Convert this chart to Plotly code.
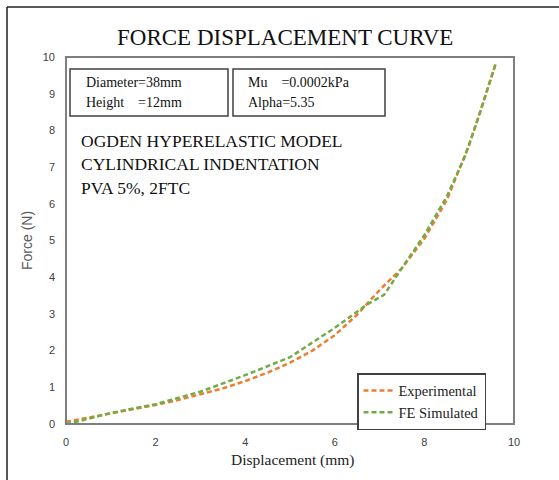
import plotly.graph_objects as go

# Measured indentation response (displacement in mm, force in N)
exp_disp = [0, 0.5, 1, 1.5, 2, 2.5, 3, 3.5, 4, 4.5, 5, 5.5, 6, 6.5, 7, 7.5, 8, 8.5, 9, 9.6]
exp_force = [0.06, 0.17, 0.28, 0.40, 0.52, 0.65, 0.80, 0.97, 1.17, 1.40, 1.67, 2.00, 2.42, 2.98, 3.65, 4.25, 5.05, 6.10, 7.60, 9.85]

# Finite element prediction
fe_disp = [0, 0.3, 1, 2, 3, 4, 5, 6, 6.7, 7.1, 7.5, 8, 8.5, 8.9, 9.24, 9.6]
fe_force = [0, 0.08, 0.30, 0.54, 0.88, 1.33, 1.82, 2.62, 3.24, 3.52, 4.25, 5.15, 6.20, 7.28, 8.47, 9.85]

x_ticks = [0, 2, 4, 6, 8, 10]
y_ticks = list(range(0, 11))

W, H = 559, 480
ML, MR, MT, MB = 66, 45, 57, 56
PW, PH = W - ML - MR, H - MT - MB


def px(x):
    return (x - ML) / PW


def py(y):
    return (H - MB - y) / PH


serif = "Liberation Serif, Times New Roman, serif"
sans = "Liberation Sans, Arial, sans-serif"

fig = go.Figure()
fig.add_trace(go.Scatter(x=exp_disp, y=exp_force, mode="lines", name="Experimental",
                         line=dict(color="#ED7D31", width=2.5, dash="5px,3px")))
fig.add_trace(go.Scatter(x=fe_disp, y=fe_force, mode="lines", name="FE Simulated",
                         line=dict(color="#70AD47", width=2.5, dash="5px,3px")))

axis_common = dict(showgrid=False, zeroline=False, ticks="", showline=False,
                   tickfont=dict(family=sans, size=11, color="#404040"))
fig.update_xaxes(range=[0, 10], tickvals=x_ticks, ticklabelstandoff=10, **axis_common)
fig.update_yaxes(range=[0, 10], tickvals=y_ticks, ticklabelstandoff=10, **axis_common)

shapes = [
    # plot frame
    dict(type="rect", xref="paper", yref="paper", x0=0, y0=0, x1=1, y1=1,
         line=dict(color="#7F7F7F", width=2)),
    # outer chart frame (top and left edges)
    dict(type="line", xref="paper", yref="paper", x0=px(7), y0=py(7), x1=px(W + 5), y1=py(7),
         line=dict(color="#222222", width=1.5)),
    dict(type="line", xref="paper", yref="paper", x0=px(7), y0=py(7), x1=px(7), y1=py(H + 5),
         line=dict(color="#222222", width=1.5)),
    # parameter boxes
    dict(type="rect", xref="paper", yref="paper", x0=px(70), y0=py(116), x1=px(228), y1=py(69),
         line=dict(color="#404040", width=1.5), fillcolor="white"),
    dict(type="rect", xref="paper", yref="paper", x0=px(233), y0=py(116), x1=px(385), y1=py(69),
         line=dict(color="#404040", width=1.5), fillcolor="white"),
]

nb = "\u00a0"
annotations = [
    dict(text="FORCE DISPLACEMENT CURVE", x=px(285), y=py(37), font=dict(family=serif, size=23, color="#111111")),
    dict(text="Displacement (mm)", x=px(293), y=py(460), font=dict(family=serif, size=15.5, color="#222222")),
    dict(text="Force (N)", x=px(27), y=py(241), textangle=-90, font=dict(family=sans, size=14, color="#595959")),
    dict(text="Diameter=38mm", x=px(84), y=py(82), xanchor="left", font=dict(family=serif, size=14, color="#111111")),
    dict(text="Height" + nb * 4 + "=12mm", x=px(84), y=py(102), xanchor="left", font=dict(family=serif, size=14, color="#111111")),
    dict(text="Mu" + nb * 4 + "=0.0002kPa", x=px(246), y=py(82), xanchor="left", font=dict(family=serif, size=14, color="#111111")),
    dict(text="Alpha=5.35", x=px(246), y=py(102), xanchor="left", font=dict(family=serif, size=14, color="#111111")),
    dict(text="OGDEN HYPERELASTIC MODEL", x=px(79), y=py(141), xanchor="left", font=dict(family=serif, size=17.5, color="#111111")),
    dict(text="CYLINDRICAL INDENTATION", x=px(79), y=py(164), xanchor="left", font=dict(family=serif, size=17.5, color="#111111")),
    dict(text="PVA 5%, 2FTC", x=px(79), y=py(188), xanchor="left", font=dict(family=serif, size=17.5, color="#111111")),
]
for a in annotations:
    a.update(xref="paper", yref="paper", showarrow=False)
    a.setdefault("xanchor", "center")
    a.setdefault("yanchor", "middle")

fig.update_layout(
    width=W, height=H,
    margin=dict(l=ML, r=MR, t=MT, b=MB),
    paper_bgcolor="white", plot_bgcolor="white",
    shapes=shapes, annotations=annotations,
    legend=dict(x=px(357), y=py(373), xanchor="left", yanchor="top",
                bgcolor="white", bordercolor="#404040", borderwidth=1.5,
                font=dict(family=serif, size=14.5, color="#222222"),
                tracegroupgap=0, itemwidth=30),
)

fig.write_html("out.html")
